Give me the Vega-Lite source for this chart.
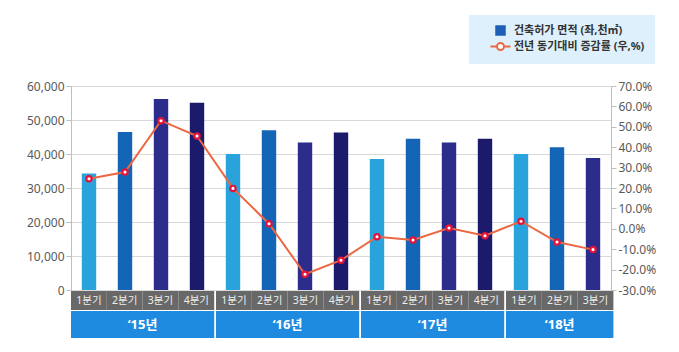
{
  "$schema": "https://vega.github.io/schema/vega-lite/v6.json",
  "padding": {"left": 26, "top": 15, "right": 5, "bottom": 5},
  "background": "white",
  "config": {
    "view": {"stroke": null},
    "font": "'Noto Sans', 'Noto Sans CJK KR'",
    "axis": {"labelFont": "'Noto Sans', 'Noto Sans CJK KR'", "labelFontSize": 12, "labelColor": "#595959", "tickColor": "#bfbfbf", "domainColor": "#bfbfbf", "gridColor": "#d9d9d9", "title": null},
    "rect": {"strokeWidth": 0}
  },
  "datasets": {
    "q": [
      {"year": "‘15년", "quarter": "1분기", "period": "15-1", "area": 34300, "rate": 24.5},
      {"year": "‘15년", "quarter": "2분기", "period": "15-2", "area": 46500, "rate": 27.8},
      {"year": "‘15년", "quarter": "3분기", "period": "15-3", "area": 56200, "rate": 53.0},
      {"year": "‘15년", "quarter": "4분기", "period": "15-4", "area": 55100, "rate": 45.5},
      {"year": "‘16년", "quarter": "1분기", "period": "16-1", "area": 40000, "rate": 19.8},
      {"year": "‘16년", "quarter": "2분기", "period": "16-2", "area": 47000, "rate": 2.5},
      {"year": "‘16년", "quarter": "3분기", "period": "16-3", "area": 43400, "rate": -22.3},
      {"year": "‘16년", "quarter": "4분기", "period": "16-4", "area": 46300, "rate": -15.4},
      {"year": "‘17년", "quarter": "1분기", "period": "17-1", "area": 38500, "rate": -3.9},
      {"year": "‘17년", "quarter": "2분기", "period": "17-2", "area": 44500, "rate": -5.5},
      {"year": "‘17년", "quarter": "3분기", "period": "17-3", "area": 43400, "rate": 0.4},
      {"year": "‘17년", "quarter": "4분기", "period": "17-4", "area": 44500, "rate": -3.4},
      {"year": "‘18년", "quarter": "1분기", "period": "18-1", "area": 40000, "rate": 3.7},
      {"year": "‘18년", "quarter": "2분기", "period": "18-2", "area": 42000, "rate": -6.5},
      {"year": "‘18년", "quarter": "3분기", "period": "18-3", "area": 38800, "rate": -10.2}
    ]
  },
  "spacing": 1,
  "bounds": "flush",
  "vconcat": [
    {
      "width": 540,
      "height": 204,
      "data": {"name": "q"},
      "encoding": {
        "x": {"field": "period", "type": "ordinal", "sort": null, "axis": null, "scale": {"type": "band", "paddingInner": 0.6, "paddingOuter": 0.3}}
      },
      "layer": [
        {
          "mark": {"type": "bar"},
          "encoding": {
            "y": {"field": "area", "type": "quantitative", "scale": {"domain": [0, 60000]},
              "axis": {"orient": "left", "values": [0, 10000, 20000, 30000, 40000, 50000, 60000], "labelExpr": "format(datum.value, ',')", "grid": true}},
            "fill": {"field": "quarter", "type": "nominal", "scale": {"domain": ["1분기", "2분기", "3분기", "4분기"], "range": ["#2aa3dc", "#1565b6", "#2b2c8c", "#1b1a6b"]}, "legend": null}
          }
        },
        {
          "encoding": {
            "y": {"field": "rate", "type": "quantitative", "scale": {"domain": [-30, 70]},
              "axis": {"orient": "right", "values": [-30, -20, -10, 0, 10, 20, 30, 40, 50, 60, 70], "grid": false,
                "labelExpr": "(datum.value < 0 ? '-' : '') + format(abs(datum.value), '.1f') + '%'"}}
          },
          "layer": [
            {"mark": {"type": "line", "strokeWidth": 2},
              "encoding": {"color": {"datum": "전년 동기대비 증감률 (우,%)",
                "scale": {"domain": ["건축허가 면적 (좌,천㎡)", "전년 동기대비 증감률 (우,%)"], "range": ["#1d5fb5", "#ec6742"]},
                "legend": {
                  "orient": "none", "legendX": 398, "legendY": -71, "title": null,
                  "fillColor": "#ddf0fb", "padding": 10, "symbolOffset": 16, "rowPadding": 3,
                  "labelFontSize": 11, "labelColor": "#333333", "labelFontWeight": "bold", "labelOffset": 8,
                  "encode": {"symbols": {"update": {
                    "shape": {"signal": "datum.value === '건축허가 면적 (좌,천㎡)' ? 'square' : 'M-1,0H-0.35M0.35,0H1M0.35,0A0.35,0.35,0,1,1,-0.35,0A0.35,0.35,0,1,1,0.35,0Z'"},
                    "size": {"signal": "datum.value === '건축허가 면적 (좌,천㎡)' ? 110 : 400"},
                    "fill": {"signal": "datum.value === '건축허가 면적 (좌,천㎡)' ? '#1d5fb5' : '#ffffff'"},
                    "stroke": {"signal": "datum.value === '건축허가 면적 (좌,천㎡)' ? '#1d5fb5' : '#e8503a'"},
                    "strokeWidth": {"signal": "datum.value === '건축허가 면적 (좌,천㎡)' ? 0 : 2"},
                    "opacity": {"value": 1}
                  }}}
                }}}},
            {"mark": {"type": "point", "filled": true, "fill": "#ffffff", "stroke": "#e3143c", "strokeWidth": 2.2, "size": 28, "opacity": 1}, "encoding": {}}
          ]
        }
      ],
      "resolve": {"scale": {"y": "independent"}}
    },
    {
      "spacing": 1,
      "hconcat": [
        {"spacing": 1, "vconcat": [
          {"width": 143.2, "height": 19, "data": {"name": "q"}, "transform": [{"filter": "datum.year === '‘15년'"}],
            "encoding": {"x": {"field": "quarter", "type": "ordinal", "axis": null, "scale": {"type": "band", "paddingInner": 0, "paddingOuter": 0}}},
            "layer": [{"mark": {"type": "rect", "color": "#686868"}}, {"mark": {"type": "text", "color": "#eeeeee", "fontSize": 10.5}, "encoding": {"text": {"field": "quarter"}}}]},
          {"width": 143.2, "height": 27, "data": {"name": "q"}, "transform": [{"filter": "datum.year === '‘15년'"}, {"filter": "datum.quarter === '1분기'"}],
            "layer": [{"mark": {"type": "rect", "color": "#1f8be0"}, "encoding": {}},
              {"mark": {"type": "text", "color": "#ffffff", "fontSize": 13, "fontWeight": "bold"}, "encoding": {"text": {"field": "year"}}}]}
        ]},
        {"spacing": 1, "vconcat": [
          {"width": 143.2, "height": 19, "data": {"name": "q"}, "transform": [{"filter": "datum.year === '‘16년'"}],
            "encoding": {"x": {"field": "quarter", "type": "ordinal", "axis": null, "scale": {"type": "band", "paddingInner": 0, "paddingOuter": 0}}},
            "layer": [{"mark": {"type": "rect", "color": "#686868"}}, {"mark": {"type": "text", "color": "#eeeeee", "fontSize": 10.5}, "encoding": {"text": {"field": "quarter"}}}]},
          {"width": 143.2, "height": 27, "data": {"name": "q"}, "transform": [{"filter": "datum.year === '‘16년'"}, {"filter": "datum.quarter === '1분기'"}],
            "layer": [{"mark": {"type": "rect", "color": "#1f8be0"}, "encoding": {}},
              {"mark": {"type": "text", "color": "#ffffff", "fontSize": 13, "fontWeight": "bold"}, "encoding": {"text": {"field": "year"}}}]}
        ]},
        {"spacing": 1, "vconcat": [
          {"width": 143.2, "height": 19, "data": {"name": "q"}, "transform": [{"filter": "datum.year === '‘17년'"}],
            "encoding": {"x": {"field": "quarter", "type": "ordinal", "axis": null, "scale": {"type": "band", "paddingInner": 0, "paddingOuter": 0}}},
            "layer": [{"mark": {"type": "rect", "color": "#686868"}}, {"mark": {"type": "text", "color": "#eeeeee", "fontSize": 10.5}, "encoding": {"text": {"field": "quarter"}}}]},
          {"width": 143.2, "height": 27, "data": {"name": "q"}, "transform": [{"filter": "datum.year === '‘17년'"}, {"filter": "datum.quarter === '1분기'"}],
            "layer": [{"mark": {"type": "rect", "color": "#1f8be0"}, "encoding": {}},
              {"mark": {"type": "text", "color": "#ffffff", "fontSize": 13, "fontWeight": "bold"}, "encoding": {"text": {"field": "year"}}}]}
        ]},
        {"spacing": 1, "vconcat": [
          {"width": 107.4, "height": 19, "data": {"name": "q"}, "transform": [{"filter": "datum.year === '‘18년'"}],
            "encoding": {"x": {"field": "quarter", "type": "ordinal", "axis": null, "scale": {"type": "band", "paddingInner": 0, "paddingOuter": 0}}},
            "layer": [{"mark": {"type": "rect", "color": "#686868"}}, {"mark": {"type": "text", "color": "#eeeeee", "fontSize": 10.5}, "encoding": {"text": {"field": "quarter"}}}]},
          {"width": 107.4, "height": 27, "data": {"name": "q"}, "transform": [{"filter": "datum.year === '‘18년'"}, {"filter": "datum.quarter === '1분기'"}],
            "layer": [{"mark": {"type": "rect", "color": "#1f8be0"}, "encoding": {}},
              {"mark": {"type": "text", "color": "#ffffff", "fontSize": 13, "fontWeight": "bold"}, "encoding": {"text": {"field": "year"}}}]}
        ]}
      ]
    }
  ]
}
